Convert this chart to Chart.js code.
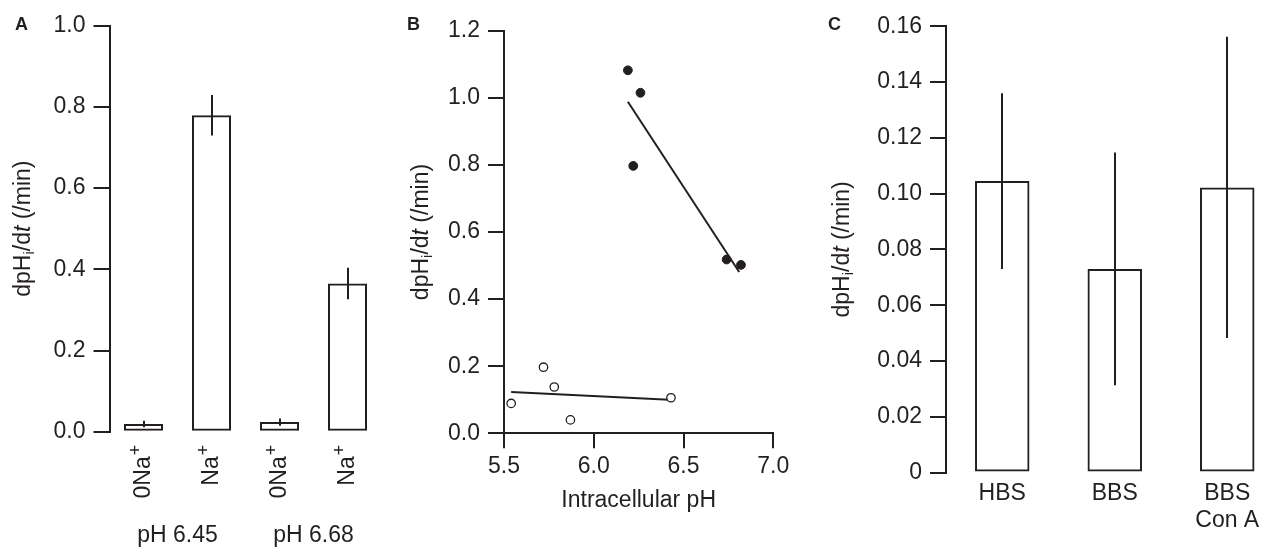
<!DOCTYPE html>
<html><head><meta charset="utf-8">
<script src="https://cdn.jsdelivr.net/npm/chart.js@4/dist/chart.umd.min.js"></script>
<style>
html,body{margin:0;padding:0;background:#fff;overflow:hidden;width:1270px;height:548px;}
canvas{position:absolute;left:0;top:0;}
</style></head><body>
<canvas id="cA" width="1270" height="548"></canvas>
<canvas id="cB" width="1270" height="548"></canvas>
<canvas id="cC" width="1300" height="548"></canvas>
<script>
// ---------- Panel A data ----------
const catA = ['0Na+', 'Na+', '0Na+', 'Na+'];
const valA = [0.019, 0.779, 0.024, 0.365];
const errA = [0.008, 0.050, 0.009, 0.039];
const groupA = ['pH 6.45', 'pH 6.68'];
const ticksA = ['0.0', '0.2', '0.4', '0.6', '0.8', '1.0'];

// ---------- Panel B data ----------
const naX = [6.19, 6.26, 6.22, 6.74, 6.82];
const naY = [1.082, 1.015, 0.797, 0.518, 0.502];
const zeroNaX = [5.54, 5.72, 5.78, 5.87, 6.43];
const zeroNaY = [0.089, 0.197, 0.138, 0.040, 0.106];
const fitNaX = [6.19, 6.81];
const fitNaY = [0.988, 0.481];
const fitZeroX = [5.54, 6.42];
const fitZeroY = [0.123, 0.100];
const ticksBx = ['5.5', '6.0', '6.5', '7.0'];
const ticksBy = ['0.0', '0.2', '0.4', '0.6', '0.8', '1.0', '1.2'];

// ---------- Panel C data ----------
const catC = [['HBS'], ['BBS'], ['BBS', 'Con A']];
const valC = [0.1045, 0.0730, 0.1022];
const errC = [0.0315, 0.0417, 0.0540];
const ticksC = ['0', '0.02', '0.04', '0.06', '0.08', '0.10', '0.12', '0.14', '0.16'];

const FONT = "'Liberation Sans', Arial, Helvetica, sans-serif";
const INK = '#231f20';
Chart.defaults.font.family = FONT;
Chart.defaults.font.size = 23;
Chart.defaults.color = INK;
Chart.defaults.animation = false;

function drawRich(ctx, segs, cx, cy, rot) {
  ctx.save();
  ctx.translate(cx, cy);
  ctx.rotate(rot);
  ctx.fillStyle = INK;
  let w = 0;
  segs.forEach(s => { ctx.font = s.font; s.w = ctx.measureText(s.t).width; w += s.w; });
  let x = -w / 2;
  ctx.textBaseline = 'middle';
  ctx.textAlign = 'left';
  segs.forEach(s => { ctx.font = s.font; ctx.fillText(s.t, x, s.dy || 0); x += s.w; });
  ctx.restore();
}
function yTitleSegs() {
  return [
    { t: 'dpH', font: '23px ' + FONT },
    { t: 'i', font: '15px ' + FONT, dy: 6 },
    { t: '/d', font: '23px ' + FONT },
    { t: 't', font: 'italic 23px ' + FONT },
    { t: ' (/min)', font: '23px ' + FONT }
  ];
}
function panelLetter(ctx, letter, x, y) {
  ctx.save();
  ctx.font = 'bold 18px ' + FONT;
  ctx.fillStyle = INK;
  ctx.textBaseline = 'alphabetic';
  ctx.textAlign = 'left';
  ctx.fillText(letter, x, y);
  ctx.restore();
}
function errorBars(vals, errs) {
  return {
    id: 'errbars',
    afterDatasetsDraw(chart) {
      const ctx = chart.ctx, meta = chart.getDatasetMeta(0), ys = chart.scales.y;
      ctx.save();
      ctx.strokeStyle = INK;
      ctx.lineWidth = 2;
      meta.data.forEach((bar, i) => {
        const x = Math.round(bar.x);
        ctx.beginPath();
        ctx.moveTo(x, ys.getPixelForValue(vals[i] + errs[i]));
        ctx.lineTo(x, ys.getPixelForValue(vals[i] - errs[i]));
        ctx.stroke();
      });
      ctx.restore();
    }
  };
}
const yAxisCommon = () => ({
  grid: { display: true, drawOnChartArea: false, drawTicks: true, tickLength: 16, color: INK, lineWidth: 2 },
  border: { display: true, color: INK, width: 2 },
  afterFit: s => { s.width = 100; }
});

// ---------- Panel A ----------
new Chart(document.getElementById('cA'), {
  type: 'bar',
  data: {
    labels: catA,
    datasets: [{
      data: valA,
      backgroundColor: 'rgba(255,255,255,0)',
      borderColor: INK,
      borderWidth: 2,
      borderSkipped: false,
      categoryPercentage: 1,
      barPercentage: 0.574
    }]
  },
  options: {
    responsive: false,
    animation: false,
    layout: { padding: { left: 9.5, right: 888.5, top: 25.5, bottom: 116.2 } },
    scales: {
      x: { ticks: { display: false }, grid: { display: false }, border: { display: false }, afterFit: s => { s.height = 0; } },
      y: Object.assign({ min: 0, max: 1 }, yAxisCommon(), { ticks: { stepSize: 0.2, padding: 8, callback: (v, i) => ticksA[i] } })
    },
    plugins: { legend: { display: false }, tooltip: { enabled: false } }
  },
  plugins: [errorBars(valA, errA), {
    id: 'decoA',
    afterDraw(chart) {
      const ctx = chart.ctx, xs = chart.scales.x, a = chart.chartArea;
      // rotated category labels with superscript +
      catA.forEach((lab, i) => {
        const cx = xs.getPixelForValue(i);
        const base = lab.replace('+', '');
        ctx.save();
        ctx.translate(cx, a.bottom + 13);
        ctx.rotate(-Math.PI / 2);
        ctx.fillStyle = INK;
        ctx.textBaseline = 'middle';
        ctx.textAlign = 'right';
        ctx.font = '18px ' + FONT;
        const wp = ctx.measureText('+').width;
        ctx.fillText('+', 0, -7);
        ctx.font = '23px ' + FONT;
        ctx.fillText(base, -wp - 1, 0);
        ctx.restore();
      });
      // group labels
      ctx.save();
      ctx.font = '23px ' + FONT;
      ctx.fillStyle = INK;
      ctx.textAlign = 'center';
      ctx.textBaseline = 'alphabetic';
      groupA.forEach((g, k) => {
        const x0 = xs.getPixelForValue(2 * k), x1 = xs.getPixelForValue(2 * k + 1);
        ctx.fillText(g, (x0 + x1) / 2, a.bottom + 110);
      });
      ctx.restore();
      drawRich(ctx, yTitleSegs(), a.left - 86, (a.top + a.bottom) / 2, -Math.PI / 2);
      panelLetter(ctx, 'A', 15, 30);
    }
  }]
});

// ---------- Panel B ----------
const toPts = (xs, ys) => xs.map((x, i) => ({ x: x, y: ys[i] }));
new Chart(document.getElementById('cB'), {
  type: 'scatter',
  data: {
    datasets: [
      { data: toPts(naX, naY), pointRadius: 4.4, pointBackgroundColor: INK, pointBorderColor: INK, pointBorderWidth: 1, order: 1 },
      { data: toPts(zeroNaX, zeroNaY), pointRadius: 4.2, pointBackgroundColor: '#fff', pointBorderColor: INK, pointBorderWidth: 1.3, order: 1 },
      { data: toPts(fitNaX, fitNaY), showLine: true, pointRadius: 0, borderColor: INK, borderWidth: 2, order: 2 },
      { data: toPts(fitZeroX, fitZeroY), showLine: true, pointRadius: 0, borderColor: INK, borderWidth: 2, order: 2 }
    ]
  },
  options: {
    responsive: false,
    animation: false,
    layout: { padding: { left: 404, right: 496.7, top: 30.7, bottom: 74.7 } },
    scales: {
      x: {
        type: 'linear', min: 5.5, max: 7.0,
        ticks: { stepSize: 0.5, padding: 4.5, callback: (v, i) => ticksBx[i] },
        grid: { display: true, drawOnChartArea: false, drawTicks: true, tickLength: 15, color: INK, lineWidth: 2 },
        border: { display: true, color: INK, width: 2 },
        afterFit: s => { s.height = 40; }
      },
      y: Object.assign({ min: 0, max: 1.2 }, yAxisCommon(), { ticks: { stepSize: 0.2, padding: 8, callback: (v, i) => ticksBy[i] } })
    },
    plugins: { legend: { display: false }, tooltip: { enabled: false } }
  },
  plugins: [{
    id: 'decoB',
    afterDraw(chart) {
      const ctx = chart.ctx, a = chart.chartArea;
      ctx.save();
      ctx.font = '23px ' + FONT;
      ctx.fillStyle = INK;
      ctx.textAlign = 'center';
      ctx.textBaseline = 'middle';
      ctx.fillText('Intracellular pH', (a.left + a.right) / 2, a.bottom + 67);
      ctx.restore();
      drawRich(ctx, yTitleSegs(), a.left - 82, (a.top + a.bottom) / 2, -Math.PI / 2);
      panelLetter(ctx, 'B', 407, 30);
    }
  }]
});

// ---------- Panel C ----------
new Chart(document.getElementById('cC'), {
  type: 'bar',
  data: {
    labels: catC,
    datasets: [{
      data: valC,
      backgroundColor: 'rgba(255,255,255,0)',
      borderColor: INK,
      borderWidth: 2,
      borderSkipped: false,
      categoryPercentage: 1,
      barPercentage: 0.484
    }]
  },
  options: {
    responsive: false,
    animation: false,
    layout: { padding: { left: 846, right: 16.5, top: 26.2, bottom: 15.4 } },
    scales: {
      x: {
        ticks: { padding: 7, font: { size: 23 }, maxRotation: 0, minRotation: 0 },
        grid: { display: false, drawTicks: false },
        border: { display: false },
        afterFit: s => { s.height = 60; }
      },
      y: Object.assign({ min: 0, max: 0.16 }, yAxisCommon(), { ticks: { stepSize: 0.02, padding: 8, callback: (v, i) => ticksC[i] } })
    },
    plugins: { legend: { display: false }, tooltip: { enabled: false } }
  },
  plugins: [errorBars(valC, errC), {
    id: 'decoC',
    afterDraw(chart) {
      const ctx = chart.ctx, a = chart.chartArea;
      drawRich(ctx, yTitleSegs(), a.left - 103, (a.top + a.bottom) / 2, -Math.PI / 2);
      panelLetter(ctx, 'C', 828, 30);
    }
  }]
});
</script>
</body></html>
